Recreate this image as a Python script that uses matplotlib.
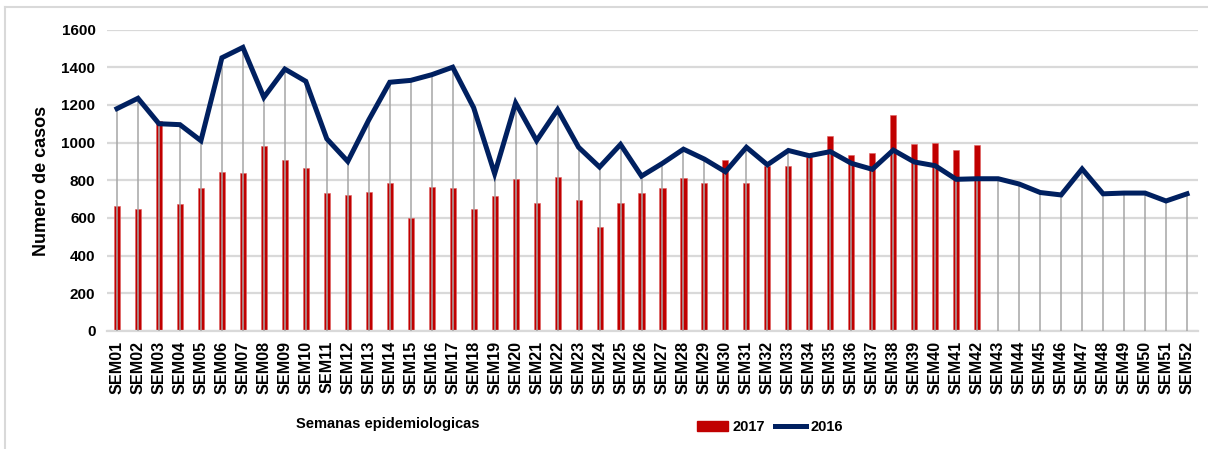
import matplotlib
matplotlib.use("Agg")
import matplotlib.pyplot as plt
from matplotlib.lines import Line2D
from matplotlib.patches import Patch
import numpy as np

weeks = [f"SEM{i:02d}" for i in range(1, 53)]

cases_2016 = [1180, 1235, 1100, 1095, 1010, 1450, 1505, 1240, 1390, 1325,
              1020, 900, 1120, 1320, 1330, 1360, 1400, 1185, 835, 1210,
              1010, 1175, 975, 870, 990, 822, 890, 965, 912, 845,
              975, 882, 958, 930, 952, 890, 858, 960, 897, 877,
              805, 808, 808, 780, 735, 722, 860, 728, 732, 732,
              690, 728]

cases_2017 = [665, 650, 1115, 675, 757, 845, 840, 980, 905, 865,
              730, 720, 735, 785, 600, 762, 757, 645, 718, 806,
              680, 815, 697, 550, 680, 730, 757, 810, 785, 908,
              785, 878, 878, 925, 1035, 935, 946, 1148, 995, 1000,
              962, 985]

yticks = [0, 200, 400, 600, 800, 1000, 1200, 1400, 1600]

plt.rcParams['font.family'] = ['Liberation Sans', 'DejaVu Sans']

W, H = 1208, 449
fig = plt.figure(figsize=(W / 100, H / 100), dpi=100)
ax = fig.add_axes([106.5 / W, 1 - 331 / H, (1197.5 - 106.5) / W, (331 - 29.5) / H])

x16 = np.arange(len(cases_2016))
x17 = np.arange(len(cases_2017))

red = "#C00000"
navy = "#002060"
grid = "#D9D9D9"

ax.bar(x17, cases_2017, width=0.29, color=red, edgecolor="#E06060", linewidth=0.4, zorder=2)
ax.vlines(x16, 0, cases_2016, colors="#A6A6A6", linewidth=1.1, zorder=3)
ax.plot(x16, cases_2016, color=navy, linewidth=3.6, solid_joinstyle="miter", zorder=4)

ax.set_xlim(-0.5, len(weeks) - 0.5)
ax.set_ylim(0, 1600)
ax.set_yticks(yticks)
ax.set_yticklabels([str(v) for v in yticks], fontsize=11, fontweight="bold")
ax.set_xticks(x16)
ax.set_xticklabels(weeks, rotation=90, fontsize=11.6, fontweight="bold")
ax.tick_params(axis="both", length=0)
ax.tick_params(axis="y", pad=8)
ax.tick_params(axis="x", pad=7)

ax.yaxis.grid(True, color=grid, linewidth=1.6, zorder=0)
ax.set_axisbelow(True)
for s in ["top", "right", "left"]:
    ax.spines[s].set_visible(False)
ax.spines["bottom"].set_color(grid)
ax.spines["bottom"].set_linewidth(1.6)

fig.text(42 / W, 1 - 181 / H, "Numero de casos", rotation=90, ha="center", va="center",
         fontsize=13, fontweight="bold")
fig.text(388 / W, 1 - 424 / H, "Semanas epidemiologicas", ha="center", va="center",
         fontsize=10.5, fontweight="bold")

handles = [Patch(facecolor=red, edgecolor=red), Line2D([0], [0], color=navy, linewidth=3.6)]
leg = fig.legend(handles, ["2017", "2016"], loc="center", bbox_to_anchor=(770 / W, 1 - 427 / H),
                 ncol=2, frameon=False, handlelength=2.1, handletextpad=0.28, columnspacing=0.75,
                 prop={"size": 10.5, "weight": "bold"})

# outer chart border (top and left visible)
fig.add_artist(Line2D([5 / W, 1.0], [1 - 7 / H, 1 - 7 / H], color=grid, linewidth=1.5))
fig.add_artist(Line2D([5 / W, 5 / W], [0, 1 - 7 / H], color=grid, linewidth=1.5))

fig.savefig("out.png", dpi=100)
